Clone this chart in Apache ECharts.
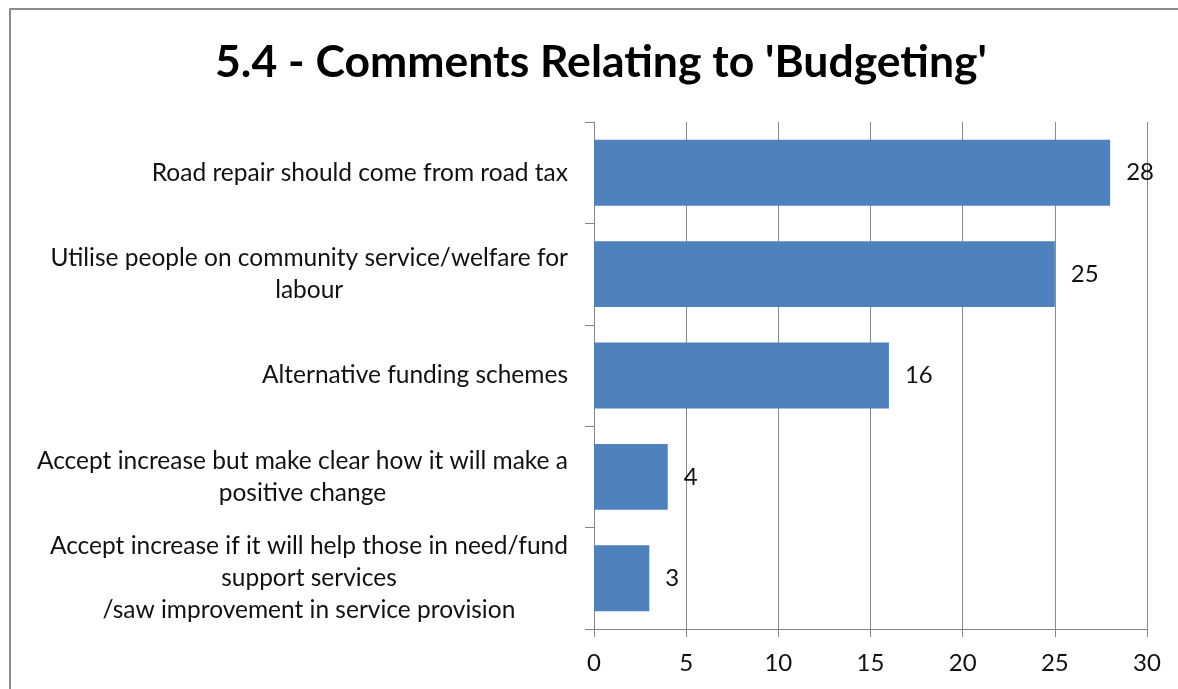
<!DOCTYPE html>
<html>
<head>
<meta charset="utf-8">
<script src="https://cdn.jsdelivr.net/npm/echarts@6/dist/echarts.min.js"></script>
<style>
  html, body { margin: 0; padding: 0; background: #fff; }
  #chart { width: 1178px; height: 689px; }
</style>
</head>
<body>
<div id="chart"></div>
<script>
const titleText = "5.4 - Comments Relating to 'Budgeting'";
const categories = [
  'Road repair should come from road tax',
  'Utilise people on community service/welfare for\nlabour',
  'Alternative funding schemes',
  'Accept increase but make clear how it will make a\npositive change',
  'Accept increase if it will help those in need/fund\nsupport services\n/saw improvement in service provision'
];
const counts = [28, 25, 16, 4, 3];
const axisTicks = { min: 0, max: 30, interval: 5 };

const FONT = 'Lato, "Noto Sans", sans-serif';
const chart = echarts.init(document.getElementById('chart'));

chart.setOption({
  backgroundColor: '#ffffff',
  animation: false,
  graphic: [{
    type: 'rect',
    shape: { x: 10, y: 9, width: 1200, height: 720 },
    style: { fill: 'none', stroke: '#8c8c8c', lineWidth: 2 }
  }],
  title: {
    text: titleText,
    left: 596,
    top: 35,
    textAlign: 'center',
    textStyle: { fontFamily: FONT, fontSize: 44.5, fontWeight: 'bold', color: '#000' }
  },
  grid: { left: 594, right: 31, top: 122, bottom: 60, containLabel: false },
  xAxis: {
    type: 'value',
    min: axisTicks.min, max: axisTicks.max, interval: axisTicks.interval,
    axisLine: { show: true, lineStyle: { color: '#868686', width: 1 } },
    axisTick: { show: true, length: 8, lineStyle: { color: '#868686' } },
    splitLine: { show: true, lineStyle: { color: '#8a8a8a', width: 1 } },
    axisLabel: { margin: 22, fontFamily: FONT, fontSize: 24, color: '#111' }
  },
  yAxis: {
    type: 'category',
    inverse: true,
    data: categories,
    axisLine: { show: true, lineStyle: { color: '#868686', width: 1 } },
    axisTick: { show: true, length: 9, lineStyle: { color: '#868686' } },
    axisLabel: {
      margin: 26,
      fontFamily: FONT, fontSize: 24.5, color: '#111',
      lineHeight: 32,
      formatter: function (v) {
        const lines = v.split('\n');
        if (lines.length === 1) return v;
        return lines.map(l => '{c|' + l + '}').join('\n');
      },
      rich: { c: { align: 'center', fontFamily: FONT, fontSize: 24.5, lineHeight: 32, color: '#111' } }
    }
  },
  series: [{
    type: 'bar',
    data: counts,
    barCategoryGap: '35%',
    itemStyle: { color: '#4f81bd' },
    label: {
      show: true, position: 'right', distance: 16,
      fontFamily: FONT, fontSize: 24, color: '#111'
    }
  }]
});
</script>
</body>
</html>
